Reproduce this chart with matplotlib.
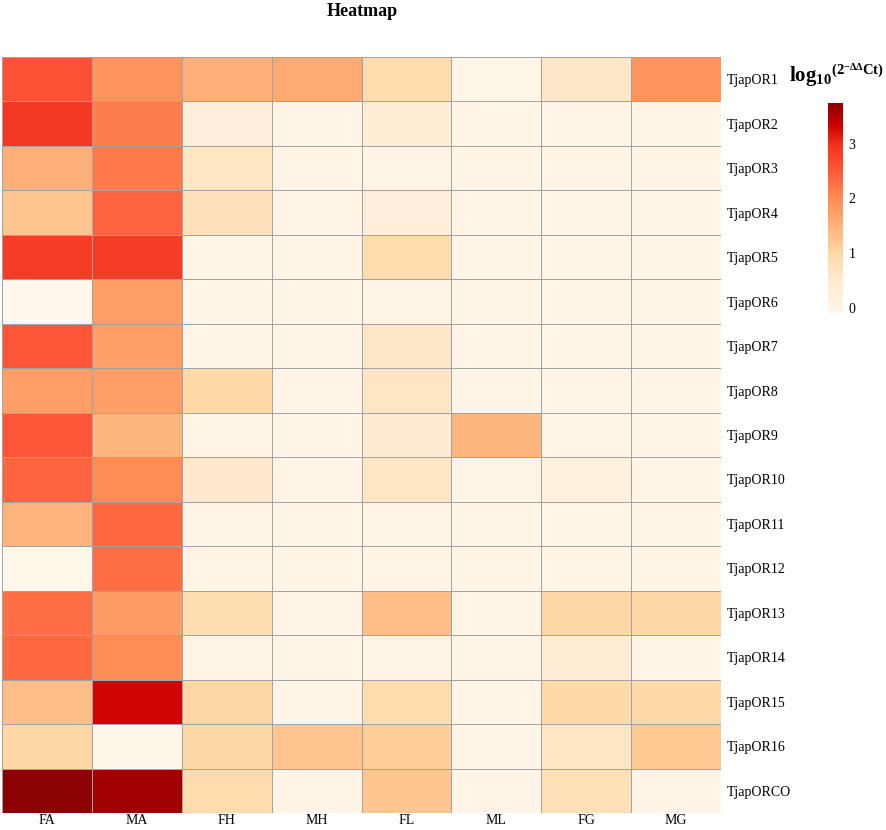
import numpy as np
import matplotlib
matplotlib.use("Agg")
import matplotlib.pyplot as plt
from matplotlib.colors import LinearSegmentedColormap

plt.rcParams['font.family'] = ['Liberation Serif', 'DejaVu Serif']
plt.rcParams['mathtext.fontset'] = 'custom'
plt.rcParams['mathtext.rm'] = 'Liberation Serif'
plt.rcParams['mathtext.bf'] = 'Liberation Serif:bold'
plt.rcParams['mathtext.it'] = 'Liberation Serif:italic'

# tissues and genes
tissues = ['FA', 'MA', 'FH', 'MH', 'FL', 'ML', 'FG', 'MG']
genes = ['TjapOR1', 'TjapOR2', 'TjapOR3', 'TjapOR4', 'TjapOR5', 'TjapOR6',
         'TjapOR7', 'TjapOR8', 'TjapOR9', 'TjapOR10', 'TjapOR11', 'TjapOR12',
         'TjapOR13', 'TjapOR14', 'TjapOR15', 'TjapOR16', 'TjapORCO']

# log10(2^-ddCt) values, one list per gene
OR1 = [2.60, 1.90, 1.55, 1.60, 0.90, 0.02, 0.60, 1.90]
OR2 = [2.90, 2.15, 0.30, 0.05, 0.40, 0.05, 0.05, 0.05]
OR3 = [1.55, 2.20, 0.65, 0.05, 0.05, 0.05, 0.05, 0.05]
OR4 = [1.25, 2.40, 0.75, 0.05, 0.35, 0.05, 0.05, 0.05]
OR5 = [2.85, 2.85, 0.05, 0.05, 0.90, 0.05, 0.05, 0.05]
OR6 = [-0.10, 1.75, 0.03, 0.05, 0.03, 0.03, 0.03, 0.03]
OR7 = [2.55, 1.75, 0.05, 0.05, 0.60, 0.05, 0.05, 0.05]
OR8 = [1.75, 1.75, 0.95, 0.05, 0.65, 0.05, 0.05, 0.05]
OR9 = [2.55, 1.45, 0.05, 0.05, 0.50, 1.45, 0.05, 0.05]
OR10 = [2.40, 2.00, 0.55, 0.05, 0.65, 0.05, 0.20, 0.05]
OR11 = [1.50, 2.35, 0.05, 0.05, 0.05, 0.05, 0.05, 0.05]
OR12 = [-0.08, 2.30, 0.05, 0.05, 0.05, 0.05, 0.05, 0.05]
OR13 = [2.30, 1.80, 0.85, 0.05, 1.35, 0.05, 1.00, 1.00]
OR14 = [2.35, 2.00, 0.05, 0.05, 0.05, 0.05, 0.40, 0.05]
OR15 = [1.35, 3.30, 1.00, 0.05, 0.90, 0.05, 0.95, 0.95]
OR16 = [1.00, -0.02, 1.00, 1.25, 1.15, 0.05, 0.65, 1.20]
ORCO = [3.75, 3.60, 0.90, 0.05, 1.25, 0.05, 0.80, 0.05]

data = np.array([OR1, OR2, OR3, OR4, OR5, OR6, OR7, OR8, OR9, OR10,
                 OR11, OR12, OR13, OR14, OR15, OR16, ORCO])

vmin, vmax = data.min(), data.max()
stops = [(-0.10, '#FFF7EB'), (0.5, '#FEEAD0'), (1.0, '#FED8A4'),
         (1.5, '#FFB27A'), (2.0, '#FF8C55'), (2.5, '#FF5A3A'),
         (3.0, '#F0301E'), (3.35, '#CC0000'), (3.75, '#8B0000')]
cmap = LinearSegmentedColormap.from_list(
    'ddct', [((v - vmin) / (vmax - vmin), c) for v, c in stops])

fig = plt.figure(figsize=(8.86, 8.30), dpi=100)
ax = fig.add_axes([2 / 886, 17 / 830, 719 / 886, 756 / 830])
mesh = ax.pcolormesh(data, cmap=cmap, vmin=vmin, vmax=vmax,
                     edgecolors='#A3A3A3', linewidth=0.6)
ax.set_xlim(0, len(tissues))
ax.set_ylim(len(genes), 0)
ax.set_xticks(np.arange(len(tissues)) + 0.5)
ax.set_xticklabels(tissues, fontsize=10)
ax.set_yticks(np.arange(len(genes)) + 0.5)
ax.set_yticklabels(genes, fontsize=10)
ax.yaxis.tick_right()
ax.tick_params(length=0, pad=4)
ax.tick_params(axis='x', pad=1)
for s in ax.spines.values():
    s.set_visible(False)

fig.text(362 / 886, 1 - 12 / 830, 'Heatmap', ha='center', va='center',
         fontsize=13, fontweight='bold')

cax = fig.add_axes([828 / 886, 1 - 313 / 830, 15 / 886, 210 / 830])
cb = fig.colorbar(mesh, cax=cax, ticks=[0, 1, 2, 3])
cb.outline.set_visible(False)
cb.ax.tick_params(length=0, labelsize=10, pad=4)
fig.text(789 / 886, 1 - 76 / 830,
         r'$\mathbf{{log_{10}}^{(2^{-\Delta\Delta}Ct)}}$',
         ha='left', va='center', fontsize=15)

fig.savefig('out.png', dpi=100)
